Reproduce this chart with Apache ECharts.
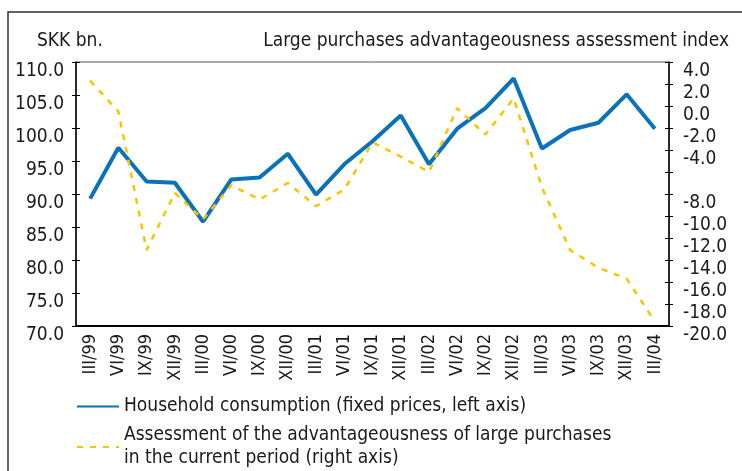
<!DOCTYPE html>
<html>
<head>
<meta charset="utf-8">
<script src="https://cdn.jsdelivr.net/npm/echarts@6.0.0/dist/echarts.min.js"></script>
<style>
html, body { margin: 0; padding: 0; background: #fff; }
#chart { width: 742px; height: 471px; }
</style>
</head>
<body>
<div id="chart"></div>
<script>
// quarters, end of month
var periods = ['III/99', 'VI/99', 'IX/99', 'XII/99', 'III/00', 'VI/00', 'IX/00', 'XII/00',
  'III/01', 'VI/01', 'IX/01', 'XII/01', 'III/02', 'VI/02', 'IX/02', 'XII/02',
  'III/03', 'VI/03', 'IX/03', 'XII/03', 'III/04'];
// household consumption, SKK bn. (left axis)
var consumption = [89.3, 97.0, 91.9, 91.7, 85.8, 92.2, 92.5, 96.1, 89.9, 94.5, 98.0,
  101.9, 94.5, 99.9, 103.0, 107.5, 96.9, 99.7, 100.8, 105.1, 99.9];
// large purchases advantageousness index (right axis)
var assessment = [2.3, -0.5, -13.1, -7.9, -10.3, -7.2, -8.5, -7.0, -9.1, -7.6, -3.3,
  -4.6, -6.0, -0.2, -2.6, 0.7, -7.4, -13.1, -14.7, -15.7, -19.6];
// the right axis of the original skips this label
var skippedRightLabels = [-6];

var FONT = "'Liberation Sans Narrow', 'DejaVu Sans Condensed', 'Arial Narrow', sans-serif";
var TXT = '#1a1a1a';
var NAME_1 = 'Household consumption (fixed prices, left axis)';
var NAME_2 = 'Assessment of the advantageousness of large purchases\nin the current period (right axis)';

var myChart = echarts.init(document.getElementById('chart'));

// second copy of an axis, only to draw the inner half of the crossing ticks
function innerTicks(axis) {
  return echarts.util.merge(echarts.util.clone(axis), {
    axisLine: { show: false },
    axisTick: { inside: true },
    axisLabel: { show: false }
  }, true);
}

var leftAxis = {
  type: 'value',
  min: 70, max: 110, interval: 5,
  position: 'left',
  axisLine: { show: true, lineStyle: { color: '#000', width: 1.5 } },
  axisTick: { show: true, length: 4, lineStyle: { color: '#000' } },
  axisLabel: {
    fontSize: 19, color: TXT, fontFamily: FONT, margin: 12,
    verticalAlign: 'top',
    formatter: function (v) { return v.toFixed(1); }
  },
  splitLine: { show: false }
};
var rightAxis = {
  type: 'value',
  min: -20, max: 4, interval: 2,
  position: 'right',
  axisLine: { show: true, lineStyle: { color: '#000', width: 1.5 } },
  axisTick: { show: true, length: 4, lineStyle: { color: '#000' } },
  axisLabel: {
    fontSize: 19, color: TXT, fontFamily: FONT, margin: 14,
    verticalAlign: 'top',
    formatter: function (v) {
      if (skippedRightLabels.indexOf(v) >= 0) return '';
      return v.toFixed(1);
    }
  },
  splitLine: { show: false }
};
var bottomAxis = {
  type: 'category',
  data: periods,
  boundaryGap: true,
  position: 'bottom',
  axisLine: { onZero: false, lineStyle: { color: '#000', width: 2 } },
  axisTick: { length: 4, lineStyle: { color: '#000' } },
  axisLabel: {
    rotate: 90, margin: 8, fontSize: 18, color: TXT, fontFamily: FONT,
    interval: 0
  },
  splitLine: { show: false }
};

var option = {
  animation: false,
  backgroundColor: '#fff',
  textStyle: { fontFamily: FONT, color: TXT },
  title: [{
    text: 'SKK bn.',
    left: 32, top: 27,
    textStyle: { fontFamily: FONT, fontSize: 19, fontWeight: 'normal', color: TXT }
  }, {
    text: 'Large purchases advantageousness assessment index',
    right: 8, top: 27,
    textStyle: { fontFamily: FONT, fontSize: 19, fontWeight: 'normal', color: TXT }
  }],
  grid: {
    left: 76, right: 73, top: 62, bottom: 145,
    show: true, borderColor: '#555', borderWidth: 1
  },
  legend: {
    orient: 'vertical',
    left: 76, top: 395,
    height: 120,
    padding: 0,
    itemWidth: 42, itemHeight: 14, itemGap: 6,
    itemStyle: { opacity: 0 },
    textStyle: { fontFamily: FONT, fontSize: 19, color: TXT, lineHeight: 23 },
    data: [{ name: NAME_1 }, { name: NAME_2 }]
  },
  xAxis: [bottomAxis, innerTicks(bottomAxis)],
  yAxis: [leftAxis, rightAxis, innerTicks(leftAxis), innerTicks(rightAxis)],
  series: [{
    name: NAME_1,
    type: 'line',
    xAxisIndex: 0,
    yAxisIndex: 0,
    data: consumption,
    symbol: 'none',
    lineStyle: { color: '#0a72b8', width: 4 },
    itemStyle: { color: '#0a72b8' }
  }, {
    name: NAME_2,
    type: 'line',
    xAxisIndex: 0,
    yAxisIndex: 1,
    data: assessment,
    symbol: 'none',
    lineStyle: { color: '#f7c600', width: 2.5, type: [6, 7] },
    itemStyle: { color: '#f7c600' }
  }],
  graphic: [{
    type: 'polyline',
    silent: true,
    shape: { points: [[8, 471], [8, 12], [742, 12]] },
    style: { stroke: '#333', lineWidth: 1.5, fill: null }
  }]
};

myChart.setOption(option);
</script>
</body>
</html>
